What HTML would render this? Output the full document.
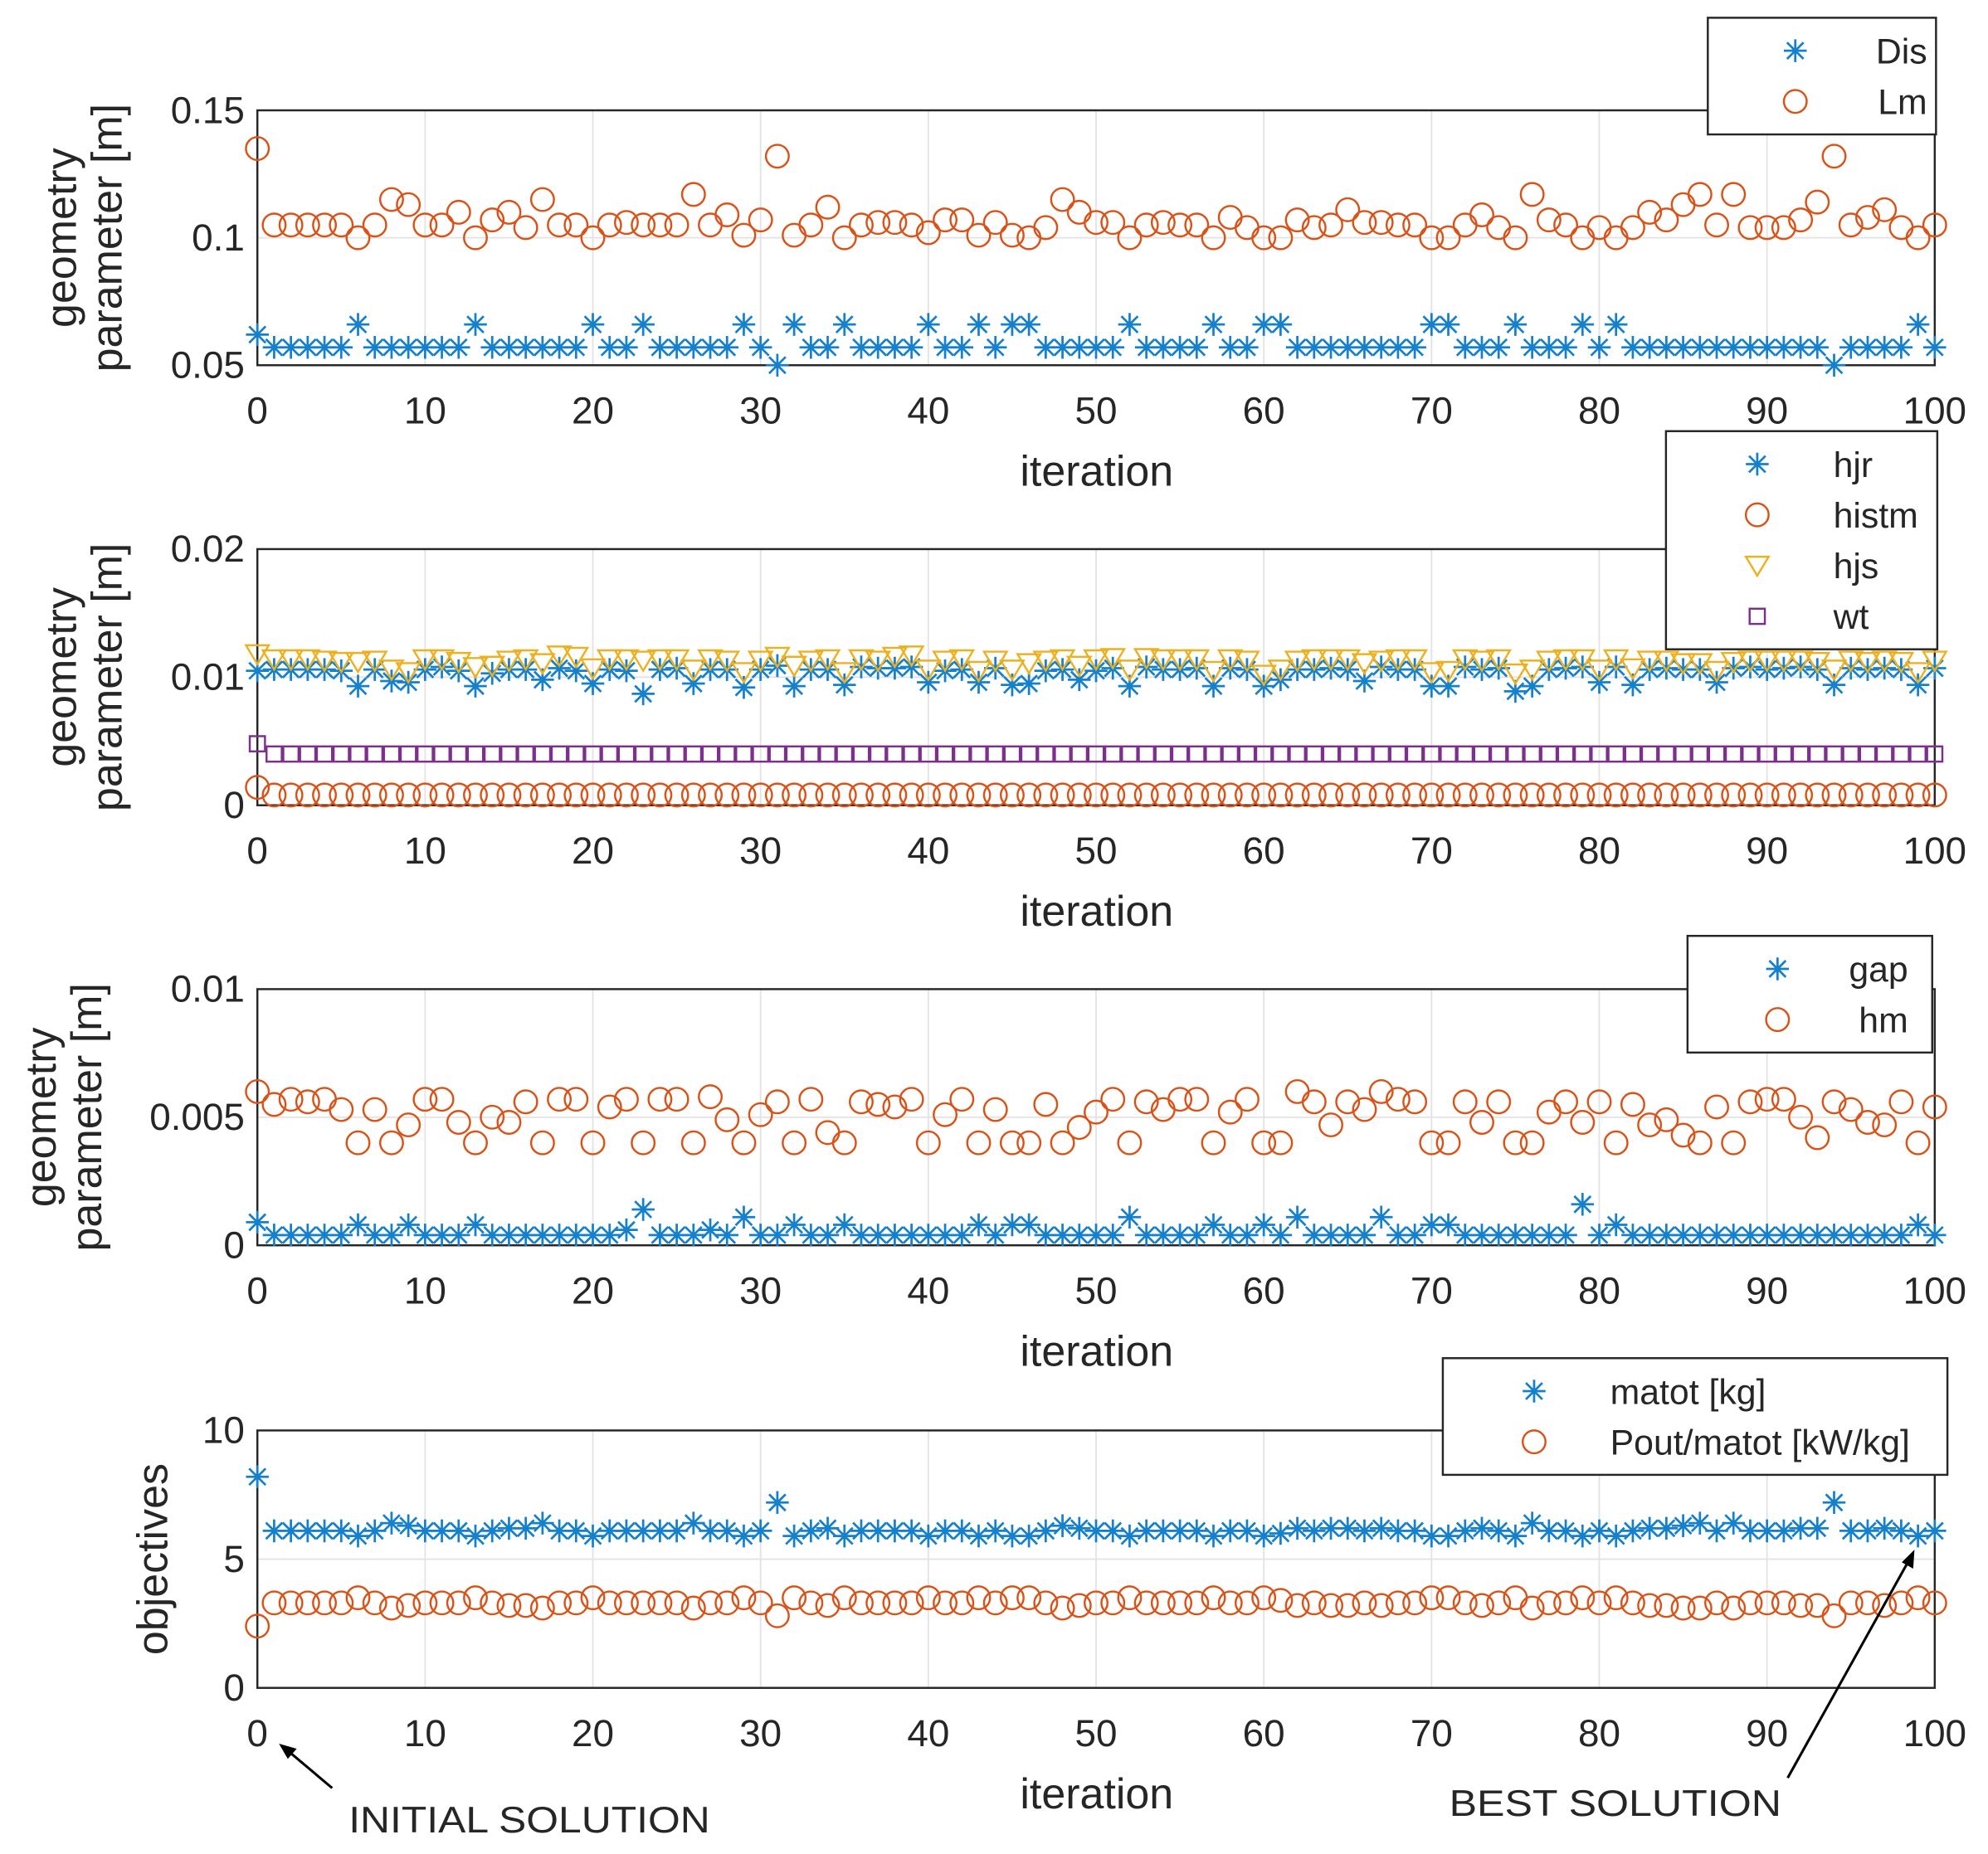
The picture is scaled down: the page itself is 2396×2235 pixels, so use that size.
<!DOCTYPE html>
<html><head><meta charset="utf-8"><style>
html,body{margin:0;padding:0;background:#fff}
svg{display:block}
text{font-family:"Liberation Sans",sans-serif;fill:#262626}
</style></head><body>
<svg id="fig" width="2396" height="2235" viewBox="0 0 1568 1462" preserveAspectRatio="none" xmlns="http://www.w3.org/2000/svg"></svg>
<script>
const iterations = Array.from({length:101},(_,i)=>i);
const xTicks = [0,10,20,30,40,50,60,70,80,90,100];
const dis = [0.062,0.057,0.057,0.057,0.057,0.057,0.066,0.057,0.057,0.057,0.057,0.057,0.057,0.066,0.057,0.057,0.057,0.057,0.057,0.057,0.066,0.057,0.057,0.066,0.057,0.057,0.057,0.057,0.057,0.066,0.057,0.05,0.066,0.057,0.057,0.066,0.057,0.057,0.057,0.057,0.066,0.057,0.057,0.066,0.057,0.066,0.066,0.057,0.057,0.057,0.057,0.057,0.066,0.057,0.057,0.057,0.057,0.066,0.057,0.057,0.066,0.066,0.057,0.057,0.057,0.057,0.057,0.057,0.057,0.057,0.066,0.066,0.057,0.057,0.057,0.066,0.057,0.057,0.057,0.066,0.057,0.066,0.057,0.057,0.057,0.057,0.057,0.057,0.057,0.057,0.057,0.057,0.057,0.057,0.05,0.057,0.057,0.057,0.057,0.066,0.057];
const lm = [0.135,0.105,0.105,0.105,0.105,0.105,0.1,0.105,0.115,0.113,0.105,0.105,0.11,0.1,0.107,0.11,0.104,0.115,0.105,0.105,0.1,0.105,0.106,0.105,0.105,0.105,0.117,0.105,0.109,0.101,0.107,0.132,0.101,0.105,0.112,0.1,0.105,0.106,0.106,0.105,0.102,0.107,0.107,0.101,0.106,0.101,0.1,0.104,0.115,0.11,0.106,0.106,0.1,0.105,0.106,0.105,0.105,0.1,0.108,0.104,0.1,0.1,0.107,0.104,0.105,0.111,0.106,0.106,0.105,0.105,0.1,0.1,0.105,0.109,0.104,0.1,0.117,0.107,0.105,0.1,0.104,0.1,0.104,0.11,0.107,0.113,0.117,0.105,0.117,0.104,0.104,0.104,0.107,0.114,0.132,0.105,0.108,0.111,0.104,0.1,0.105];
const hjr = [0.0105,0.0106,0.0106,0.0106,0.0106,0.0105,0.0093,0.0106,0.0097,0.0096,0.0106,0.0108,0.0105,0.0093,0.0103,0.0106,0.0106,0.0098,0.0107,0.0105,0.0095,0.0106,0.0105,0.0087,0.0106,0.0107,0.0095,0.0106,0.0106,0.0092,0.0106,0.0109,0.0093,0.0106,0.0106,0.0094,0.0108,0.0107,0.0107,0.0108,0.0096,0.0105,0.0106,0.0096,0.0107,0.0094,0.0095,0.0105,0.0106,0.0098,0.0105,0.0107,0.0093,0.0108,0.0106,0.0106,0.0107,0.0093,0.0107,0.0106,0.0093,0.0098,0.0106,0.0106,0.0107,0.0106,0.0097,0.0108,0.0106,0.0106,0.0093,0.0093,0.0108,0.0106,0.0107,0.0089,0.0093,0.0106,0.0107,0.0108,0.0096,0.0108,0.0094,0.0106,0.0107,0.0106,0.0106,0.0096,0.0107,0.0108,0.0106,0.0107,0.0108,0.0106,0.0094,0.0107,0.0106,0.0107,0.0106,0.0094,0.0107];
const hjs = [0.0118,0.0114,0.0114,0.0114,0.0113,0.0112,0.0112,0.0113,0.0106,0.0104,0.0114,0.0114,0.0112,0.0108,0.0109,0.0113,0.0114,0.0111,0.0117,0.0116,0.0107,0.0114,0.0114,0.0113,0.0114,0.0114,0.0106,0.0114,0.0113,0.0104,0.0113,0.0116,0.0109,0.0113,0.0114,0.0104,0.0114,0.0113,0.0116,0.0117,0.0106,0.0113,0.0114,0.0105,0.0113,0.0106,0.0111,0.0113,0.0114,0.0109,0.0114,0.0115,0.0106,0.0115,0.0114,0.0114,0.0114,0.0105,0.0114,0.0113,0.0102,0.0106,0.0113,0.0114,0.0114,0.0114,0.0111,0.0113,0.0114,0.0114,0.0104,0.0105,0.0114,0.0113,0.0114,0.0103,0.0106,0.0113,0.0114,0.0114,0.0106,0.0114,0.0107,0.0113,0.0113,0.0111,0.0111,0.0105,0.0112,0.0113,0.0113,0.0113,0.0113,0.0112,0.0106,0.0113,0.0112,0.0113,0.0112,0.0104,0.0113];
const histm = [0.0014].concat(Array(100).fill(0.0008));
const wt = [0.0048].concat(Array(100).fill(0.004));
const hm = [0.006,0.0055,0.0057,0.0056,0.0057,0.0053,0.004,0.0053,0.004,0.0047,0.0057,0.0057,0.0048,0.004,0.005,0.0048,0.0056,0.004,0.0057,0.0057,0.004,0.0054,0.0057,0.004,0.0057,0.0057,0.004,0.0058,0.0049,0.004,0.0051,0.0056,0.004,0.0057,0.0044,0.004,0.0056,0.0055,0.0054,0.0057,0.004,0.0051,0.0057,0.004,0.0053,0.004,0.004,0.0055,0.004,0.0046,0.0052,0.0057,0.004,0.0056,0.0053,0.0057,0.0057,0.004,0.0052,0.0057,0.004,0.004,0.006,0.0056,0.0047,0.0056,0.0053,0.006,0.0057,0.0056,0.004,0.004,0.0056,0.0048,0.0056,0.004,0.004,0.0052,0.0056,0.0048,0.0056,0.004,0.0055,0.0047,0.0049,0.0043,0.004,0.0054,0.004,0.0056,0.0057,0.0057,0.005,0.0042,0.0056,0.0053,0.0048,0.0047,0.0056,0.004,0.0054];
const gap = [0.0009,0.0004,0.0004,0.0004,0.0004,0.0004,0.0008,0.0004,0.0004,0.0008,0.0004,0.0004,0.0004,0.0008,0.0004,0.0004,0.0004,0.0004,0.0004,0.0004,0.0004,0.0004,0.0006,0.0014,0.0004,0.0004,0.0004,0.0006,0.0004,0.0011,0.0004,0.0004,0.0008,0.0004,0.0004,0.0008,0.0004,0.0004,0.0004,0.0004,0.0004,0.0004,0.0004,0.0008,0.0004,0.0008,0.0008,0.0004,0.0004,0.0004,0.0004,0.0004,0.0011,0.0004,0.0004,0.0004,0.0004,0.0008,0.0004,0.0004,0.0008,0.0004,0.0011,0.0004,0.0004,0.0004,0.0004,0.0011,0.0004,0.0004,0.0008,0.0008,0.0004,0.0004,0.0004,0.0004,0.0004,0.0004,0.0004,0.0016,0.0004,0.0008,0.0004,0.0004,0.0004,0.0004,0.0004,0.0004,0.0004,0.0004,0.0004,0.0004,0.0004,0.0004,0.0004,0.0004,0.0004,0.0004,0.0004,0.0008,0.0004];
const matot = [8.2,6.1,6.1,6.1,6.1,6.1,5.9,6.1,6.4,6.3,6.1,6.1,6.1,5.9,6.1,6.2,6.2,6.4,6.1,6.1,5.9,6.1,6.1,6.1,6.1,6.1,6.4,6.1,6.1,5.9,6.1,7.2,5.9,6.1,6.2,5.9,6.1,6.1,6.1,6.1,5.9,6.1,6.1,5.9,6.1,5.9,5.9,6.1,6.3,6.2,6.1,6.1,5.9,6.1,6.1,6.1,6.1,5.9,6.1,6.1,5.9,6.0,6.2,6.1,6.2,6.2,6.1,6.2,6.1,6.1,5.9,5.9,6.1,6.2,6.1,5.9,6.4,6.1,6.1,5.9,6.1,5.9,6.1,6.2,6.2,6.3,6.4,6.1,6.4,6.1,6.1,6.1,6.2,6.2,7.2,6.1,6.1,6.2,6.1,5.9,6.1];
const pout = [2.4,3.3,3.3,3.3,3.3,3.3,3.5,3.3,3.1,3.2,3.3,3.3,3.3,3.5,3.3,3.2,3.2,3.1,3.3,3.3,3.5,3.3,3.3,3.3,3.3,3.3,3.1,3.3,3.3,3.5,3.3,2.8,3.5,3.3,3.2,3.5,3.3,3.3,3.3,3.3,3.5,3.3,3.3,3.5,3.3,3.5,3.5,3.3,3.1,3.2,3.3,3.3,3.5,3.3,3.3,3.3,3.3,3.5,3.3,3.3,3.5,3.4,3.2,3.3,3.2,3.2,3.3,3.2,3.3,3.3,3.5,3.5,3.3,3.2,3.3,3.5,3.1,3.3,3.3,3.5,3.3,3.5,3.3,3.2,3.2,3.1,3.1,3.3,3.1,3.3,3.3,3.3,3.2,3.2,2.8,3.3,3.3,3.2,3.3,3.5,3.3];

const NS="http://www.w3.org/2000/svg";
const svg=document.getElementById('fig');
function el(tag,attrs,parent){const e=document.createElementNS(NS,tag);for(const k in attrs)e.setAttribute(k,attrs[k]);(parent||svg).appendChild(e);return e;}
const X0=203,X1=1526;
const xs=v=>X0+(X1-X0)*v/100;
const BLUE="#1580CC",ORANGE="#D95319",YEL="#EDB120",PURP="#7E2F8E";

function marker(g,type,x,y,color){
  let m;
  if(type==='star'){
    m=el('path',{d:`M${x-9},${y}h18M${x},${y-9}v18M${x-6.5},${y-6.5}l13,13M${x-6.5},${y+6.5}l13,-13`,stroke:color,'stroke-width':1.8,fill:'none'},g);
  }else if(type==='circle'){
    m=el('circle',{cx:x,cy:y,r:9,stroke:color,'stroke-width':1.6,fill:'none'},g);
  }else if(type==='tri'){
    m=el('path',{d:`M${x-9},${y-7}h18l-9,15z`,stroke:color,'stroke-width':1.6,fill:'none'},g);
  }else{
    m=el('rect',{x:x-6,y:y-6,width:12,height:12,stroke:color,'stroke-width':1.6,fill:'none'},g);
  }
  return m;
}

function panel(p){
  const g=el('g',{});
  
  
  const ys=v=>p.yb+(p.yt-p.yb)*(v-p.ymin)/(p.ymax-p.ymin);
  xTicks.forEach(t=>{const l=el('line',{x1:xs(t),x2:xs(t),y1:p.yt,y2:p.yb,stroke:'#e3e3e3','stroke-width':1.2},g);
    });
  p.yticks.forEach((t,i)=>{const l=el('line',{x1:X0,x2:X1,y1:ys(t),y2:ys(t),stroke:'#e3e3e3','stroke-width':1.2},g);
    
    const tx=el('text',{x:X0-10,y:ys(t)+10,'text-anchor':'end','font-size':30},g);tx.textContent=p.ylabels[i];
    });
  xTicks.forEach(t=>{const tx=el('text',{x:xs(t),y:p.yb+46,'text-anchor':'middle','font-size':30},g);tx.textContent=t;
    });
  const box=el('rect',{x:X0,y:p.yt,width:X1-X0,height:p.yb-p.yt,fill:'none',stroke:'#262626','stroke-width':1.6},g);
  
  const xl=el('text',{x:865,y:p.yb+95,'text-anchor':'middle','font-size':34},g);xl.textContent='iteration';
  
  const yl=el('text',{transform:`translate(${p.ylx},${(p.yt+p.yb)/2}) rotate(-90)`,'text-anchor':'middle','font-size':34},g);
  
  p.ylines.forEach((s,i)=>{const ts=el('tspan',{x:0,dy:i===0?0:36},yl);ts.textContent=s;});
  p.series.forEach(s=>{
    const sg=el('g',{},g);
    
    
    s.data.forEach((v,i)=>{const m=marker(sg,s.type,xs(iterations[i]),ys(v),s.color);
      });
  });
  const L=p.legend;
  const lg=el('g',{},g);
  
  el('rect',{x:L.x,y:L.y,width:L.w,height:L.h,fill:'#fff',stroke:'#262626','stroke-width':1.6},lg);
  p.series.forEach((s,i)=>{
    const cy=L.y+26+i*40;
    const e=el('g',{},lg);
    
    marker(e,s.type,L.mx,cy,s.color);
    const t=el('text',{x:L.tx,y:cy+10,'text-anchor':L.anchor||'end','font-size':28},e);t.textContent=s.label;
  });
}

panel({name:'panel-dis-lm',yt:87,yb:288,ymin:0.05,ymax:0.15,yticks:[0.05,0.1,0.15],ylabels:['0.05','0.1','0.15'],ylx:60,ylines:['geometry','parameter [m]'],
  series:[{label:'Dis',data:dis,type:'star',color:BLUE},{label:'Lm',data:lm,type:'circle',color:ORANGE}],
  legend:{x:1347,y:14,w:180,h:92,mx:1416,tx:1520}});
panel({name:'panel-hjr-histm-hjs-wt',yt:433,yb:635,ymin:0,ymax:0.02,yticks:[0,0.01,0.02],ylabels:['0','0.01','0.02'],ylx:60,ylines:['geometry','parameter [m]'],
  series:[{label:'hjr',data:hjr,type:'star',color:BLUE},{label:'histm',data:histm,type:'circle',color:ORANGE},{label:'hjs',data:hjs,type:'tri',color:YEL},{label:'wt',data:wt,type:'square',color:PURP}],
  legend:{x:1314,y:340,w:214,h:172,mx:1386,tx:1446,anchor:'start'}});
panel({name:'panel-gap-hm',yt:780,yb:982,ymin:0,ymax:0.01,yticks:[0,0.005,0.01],ylabels:['0','0.005','0.01'],ylx:44,ylines:['geometry','parameter [m]'],
  series:[{label:'gap',data:gap,type:'star',color:BLUE},{label:'hm',data:hm,type:'circle',color:ORANGE}],
  legend:{x:1331,y:738,w:193,h:92,mx:1402,tx:1505}});
panel({name:'panel-objectives',yt:1128,yb:1331,ymin:0,ymax:10,yticks:[0,5,10],ylabels:['0','5','10'],ylx:132,ylines:['objectives'],
  series:[{label:'matot [kg]',data:matot,type:'star',color:BLUE},{label:'Pout/matot [kW/kg]',data:pout,type:'circle',color:ORANGE}],
  legend:{x:1138,y:1071,w:398,h:92,mx:1210,tx:1270,anchor:'start'}});

const a1=el('g',{});
el('line',{x1:262,y1:1410,x2:224,y2:1378,stroke:'#000','stroke-width':2},a1);
el('path',{d:'M220,1375 l14,4 l-7,8 z',fill:'#000'},a1);
const t1=el('text',{x:275,y:1445,'font-size':29,fill:'#000',textLength:285,lengthAdjust:'spacingAndGlyphs'},a1);t1.textContent='INITIAL SOLUTION';
const a2=el('g',{});
el('line',{x1:1410,y1:1402,x2:1507,y2:1228,stroke:'#000','stroke-width':2},a2);
el('path',{d:'M1510,1222 l-1,15 l-9,-5 z',fill:'#000'},a2);
const t2=el('text',{x:1143,y:1432,'font-size':29,fill:'#000',textLength:262,lengthAdjust:'spacingAndGlyphs'},a2);t2.textContent='BEST SOLUTION';
</script>
</body></html>
